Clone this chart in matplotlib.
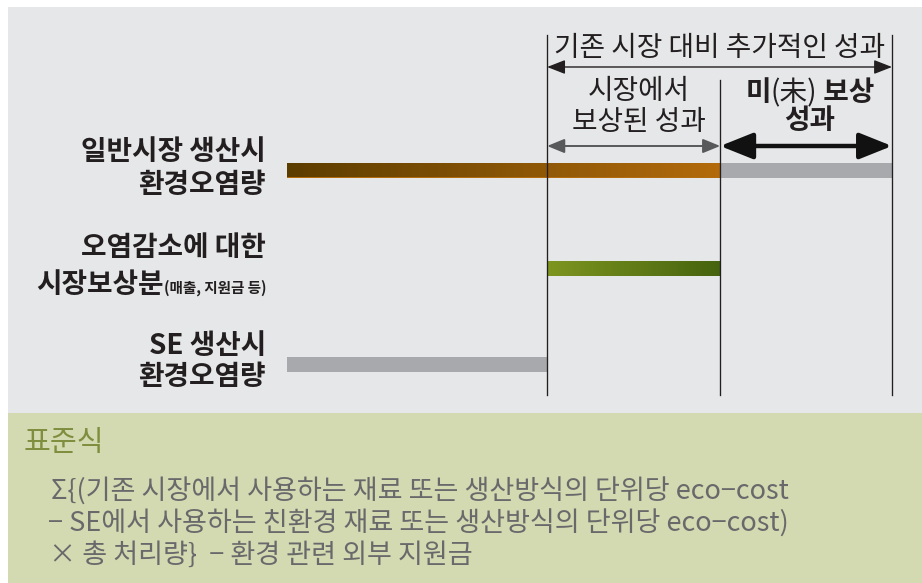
import matplotlib
matplotlib.use('Agg')
import matplotlib.pyplot as plt
import numpy as np
from matplotlib.patches import Rectangle
from matplotlib.colors import LinearSegmentedColormap

plt.rcParams['font.family'] = ['Noto Sans CJK KR', 'DejaVu Sans']

# ---------------- data ----------------
row_labels = ['일반시장 생산시\n환경오염량', '오염감소에 대한\n시장보상분', 'SE 생산시\n환경오염량']
row_label_note = '(매출, 지원금 등)'
conventional_pollution = 100.0   # 일반시장 생산시 환경오염량
se_pollution = 43.0              # SE 생산시 환경오염량
market_compensation = 28.6       # 오염감소에 대한 시장보상분
top_span_label = '기존 시장 대비 추가적인 성과'
compensated_label = '시장에서\n보상된 성과'
uncompensated_label_1 = '미'
uncompensated_label_2 = '(未)'
uncompensated_label_3 = ' 보상'
uncompensated_label_4 = '성과'
formula_title = '표준식'
formula_lines = [
    'Σ{(기존 시장에서 사용하는 재료 또는 생산방식의 단위당 eco−cost',
    '− SE에서 사용하는 친환경 재료 또는 생산방식의 단위당 eco−cost)',
    '× 총 처리량}  − 환경 관련 외부 지원금',
]

# ---------------- layout ----------------
W, H = 922, 583
fig = plt.figure(figsize=(W / 100, H / 100), dpi=100)
fig.patch.set_facecolor('white')
ax = fig.add_axes([0, 0, 1, 1])
ax.set_axis_off()

X0_PX, PX_PER_UNIT = 287.0, 6.05


def px(x):
    return (x - X0_PX) / PX_PER_UNIT


xl = (px(0), px(W))
ax.set_xlim(*xl)
ax.set_ylim(H, 0)

# backgrounds
ax.add_patch(Rectangle((px(8), 7), px(W) - px(8), 406, facecolor='#E6E7E8', edgecolor='none', zorder=0))
ax.add_patch(Rectangle((px(8), 413), px(W) - px(8), H - 413, facecolor='#D3D9B0', edgecolor='none', zorder=0))

BAR_H = 15
row_y = [170, 268.5, 364.5]

compensated_end = se_pollution + market_compensation


def grad_bar(y, left, width, c0, c1):
    b = ax.barh([y], [width], left=[left], height=BAR_H, color=c1, edgecolor='none', zorder=2)[0]
    cmap = LinearSegmentedColormap.from_list('g', [c0, c1])
    im = ax.imshow(np.linspace(0, 1, 256).reshape(1, -1), cmap=cmap, aspect='auto',
                   extent=[left, left + width, y + BAR_H / 2, y - BAR_H / 2],
                   interpolation='bilinear', zorder=3)
    im.set_clip_path(b)


GREY = '#A7A9AC'
# row 0: conventional production pollution
grad_bar(row_y[0], 0, compensated_end, '#5C3D00', '#B36B0C')
ax.barh([row_y[0]], [conventional_pollution - compensated_end], left=[compensated_end],
        height=BAR_H, color=GREY, edgecolor='none', zorder=2)
# row 1: market compensation
grad_bar(row_y[1], se_pollution, market_compensation, '#7E9520', '#45630E')
# row 2: SE pollution
ax.barh([row_y[2]], [se_pollution], left=[0], height=BAR_H, color=GREY, edgecolor='none', zorder=2)

ax.set_xlim(*xl)
ax.set_ylim(H, 0)

# vertical guide lines
LC = '#231F20'
ax.plot([se_pollution] * 2, [35, 395], color=LC, lw=0.95, zorder=4)
ax.plot([compensated_end] * 2, [80, 395], color=LC, lw=0.95, zorder=4)
ax.plot([conventional_pollution] * 2, [35, 395], color=LC, lw=0.95, zorder=4)


def arrow(x0, x1, y, color, lw, hl, hw):
    ax.annotate('', xy=(x1, y), xytext=(x0, y),
                arrowprops=dict(arrowstyle=f'<|-|>,head_length={hl},head_width={hw}',
                                color=color, lw=lw, shrinkA=0, shrinkB=0,
                                mutation_scale=10), zorder=5)


arrow(se_pollution, conventional_pollution, 67, '#231F20', 1.0, 1.1, 0.43)
arrow(se_pollution, compensated_end, 146, '#58595B', 1.4, 1.05, 0.43)
arrow(compensated_end, conventional_pollution, 146, '#111111', 3.2, 2.0, 0.8)

# top texts
FS = 20
mid_all = (se_pollution + conventional_pollution) / 2
ax.text(mid_all, 48, top_span_label, ha='center', va='center', fontsize=FS, color=LC, zorder=6)
mid_comp = px(639)
l1, l2 = compensated_label.split('\n')
ax.text(mid_comp, 91, l1, ha='center', va='center', fontsize=FS, color=LC, zorder=6)
ax.text(mid_comp, 122, l2, ha='center', va='center', fontsize=FS, color=LC, zorder=6)

# 미(未) 보상 -- mixed weights
fig.canvas.draw()
r = fig.canvas.get_renderer()
inv = ax.transData.inverted()
parts = [(uncompensated_label_1, 'bold'), (uncompensated_label_2, 'normal'), (uncompensated_label_3, 'bold')]
tmp = [ax.text(0, 0, t, fontsize=FS, fontweight=w) for t, w in parts]
widths = [t.get_window_extent(r).width for t in tmp]
for t in tmp:
    t.remove()
total = sum(widths)
cx_disp = ax.transData.transform((px(810), 0))[0]
xcur = cx_disp - total / 2
for (t, w), wd in zip(parts, widths):
    xd = inv.transform((xcur, 0))[0]
    ax.text(xd, 93, t, ha='left', va='center', fontsize=FS, fontweight=w, color=LC, zorder=6)
    xcur += wd
ax.text(px(810), 121, uncompensated_label_4, ha='center', va='center', fontsize=FS,
        fontweight='bold', color=LC, zorder=6)

# row labels
LX = px(266)
LFS = 20
line_offsets = [(152, 185), (248, 284), (346, 377)]
for i, lab in enumerate(row_labels):
    a, b = lab.split('\n')
    ya, yb = line_offsets[i]
    ax.text(LX, ya, a, ha='right', va='center', fontsize=LFS, fontweight='bold', color=LC, zorder=6)
    if i == 1:
        small = ax.text(LX, yb + 9, row_label_note, ha='right', va='baseline', fontsize=10.5,
                        fontweight='bold', color=LC, zorder=6)
        fig.canvas.draw()
        bb = small.get_window_extent(fig.canvas.get_renderer())
        xs = ax.transData.inverted().transform((bb.x0, 0))[0]
        ax.text(xs, yb + 9, b, ha='right', va='baseline', fontsize=LFS, fontweight='bold',
                color=LC, zorder=6)
    else:
        ax.text(LX, yb, b, ha='right', va='center', fontsize=LFS, fontweight='bold', color=LC, zorder=6)

# formula box
ax.text(px(24), 443, formula_title, ha='left', va='center', fontsize=21, color='#7E8E3E', zorder=6)
for yy, xx, line in zip([492, 524, 555], [51, 48, 49], formula_lines):
    ax.text(px(xx), yy, line, ha='left', va='center', fontsize=19.5, color='#69696C',
            fontweight='light', zorder=6)

fig.savefig('out.png', dpi=100, facecolor=fig.get_facecolor())
